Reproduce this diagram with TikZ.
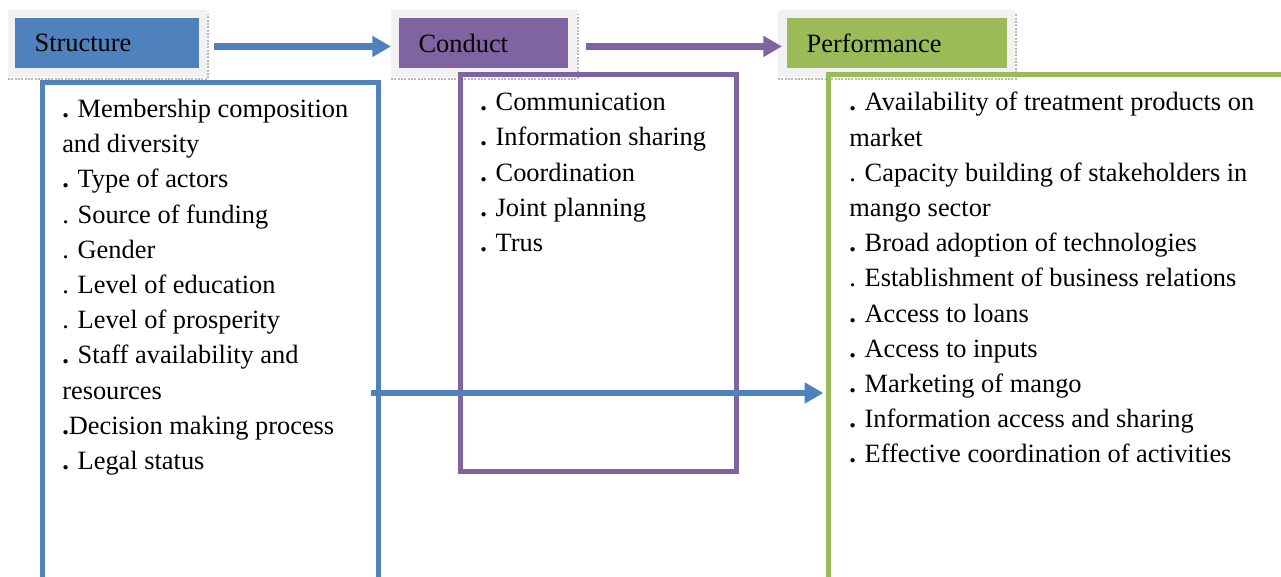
\documentclass[tikz,border=0pt]{standalone}
\usepackage{fontspec}
\setmainfont{Liberation Serif}
\usetikzlibrary{arrows.meta, positioning}
\definecolor{strblue}{HTML}{4F81BD}
\definecolor{condpurple}{HTML}{8064A2}
\definecolor{perfgreen}{HTML}{9BBB59}
\definecolor{shadegrey}{HTML}{F2F2F2}
\newcommand\bdt{\textbf{.}}

\begin{document}
\begin{tikzpicture}[
  x=0.75pt, y=-0.75pt,
  every node/.style={font=\fontsize{19.8}{26.4}\selectfont},
  hdrshade/.style={fill=shadegrey, inner sep=0pt, anchor=north west,
                   minimum height=50.25pt},
  hdr/.style={inner xsep=14.5pt, inner ysep=0pt, anchor=north west,
              minimum height=37.5pt, align=left},
  dotline/.style={draw=gray!55, densely dotted, line width=1.5pt},
  listbox/.style={line width=4pt, inner sep=0pt, anchor=north west},
  items/.style={align=left, anchor=north west, inner sep=0pt},
  arr/.style={line width=5pt, -{Triangle[length=14pt, width=15pt]}}
]
  \useasboundingbox (0,0) rectangle (1281,576);
  \clip (0,0) rectangle (1281,576);

  % Header shades
  \node[hdrshade, minimum width=149.25pt] (strshade) at (8,10) {};
  \node[hdrshade, minimum width=139.5pt] (condshade) at (391,10) {};
  \node[hdrshade, minimum width=177.75pt] (perfshade) at (778,10) {};
  \foreach \s in {strshade, condshade, perfshade}
    \draw[dotline] ([yshift=-1pt]\s.south west) -- ([yshift=-1pt]\s.south east)
      -- ([yshift=-3pt]\s.north east);

  % Headers
  \node[hdr, fill=strblue, text width=109pt] (strhdr) at (15,18) {Structure};
  \node[hdr, fill=condpurple, text width=97.75pt] (condhdr) at (399,18) {Conduct};
  \node[hdr, fill=perfgreen, text width=136pt] (perfhdr) at (787,18) {Performance};

  % List boxes
  \node[listbox, draw=strblue, minimum width=252pt, minimum height=420pt]
    (strbox) at (40,80) {};
  \node[listbox, draw=condpurple, minimum width=207pt, minimum height=297.75pt]
    (condbox) at (458,72) {};
  \node[listbox, draw=perfgreen, minimum width=375pt, minimum height=420pt]
    (perfbox) at (826,72) {};

  % Items
  \node[items] (stritems) at (62,99) {\bdt{} Membership composition\\
    and diversity\\ \bdt{} Type of actors\\ . Source of funding\\ . Gender\\
    . Level of education\\ . Level of prosperity\\ \bdt{} Staff availability and\\
    resources\\ \bdt{}Decision making process\\ \bdt{} Legal status};
  \node[items] (conditems) at (480,93) {\bdt{} Communication\\
    \bdt{} Information sharing\\ \bdt{} Coordination\\ \bdt{} Joint planning\\
    \bdt{} Trus};
  \node[items] (perfitems) at (849,92) {\bdt{} Availability of treatment products on\\
    market\\ . Capacity building of stakeholders in\\ mango sector\\
    \bdt{} Broad adoption of technologies\\ . Establishment of business relations\\
    \bdt{} Access to loans\\ \bdt{} Access to inputs\\ \bdt{} Marketing of mango\\
    \bdt{} Information access and sharing\\
    \bdt{} Effective coordination of activities};

  % Arrows
  \draw[arr, strblue] ([xshift=4.5pt, yshift=-2pt]strshade.east)
    -- ([yshift=-2pt]condshade.west);
  \draw[arr, condpurple] ([xshift=6pt, yshift=-2pt]condshade.east)
    -- ([xshift=3pt, yshift=-2pt]perfshade.west);
  \coordinate (linkstart) at (371,393);
  \draw[arr, strblue, shorten >=2pt] (linkstart) -- (linkstart -| perfbox.west);
\end{tikzpicture}
\end{document}
